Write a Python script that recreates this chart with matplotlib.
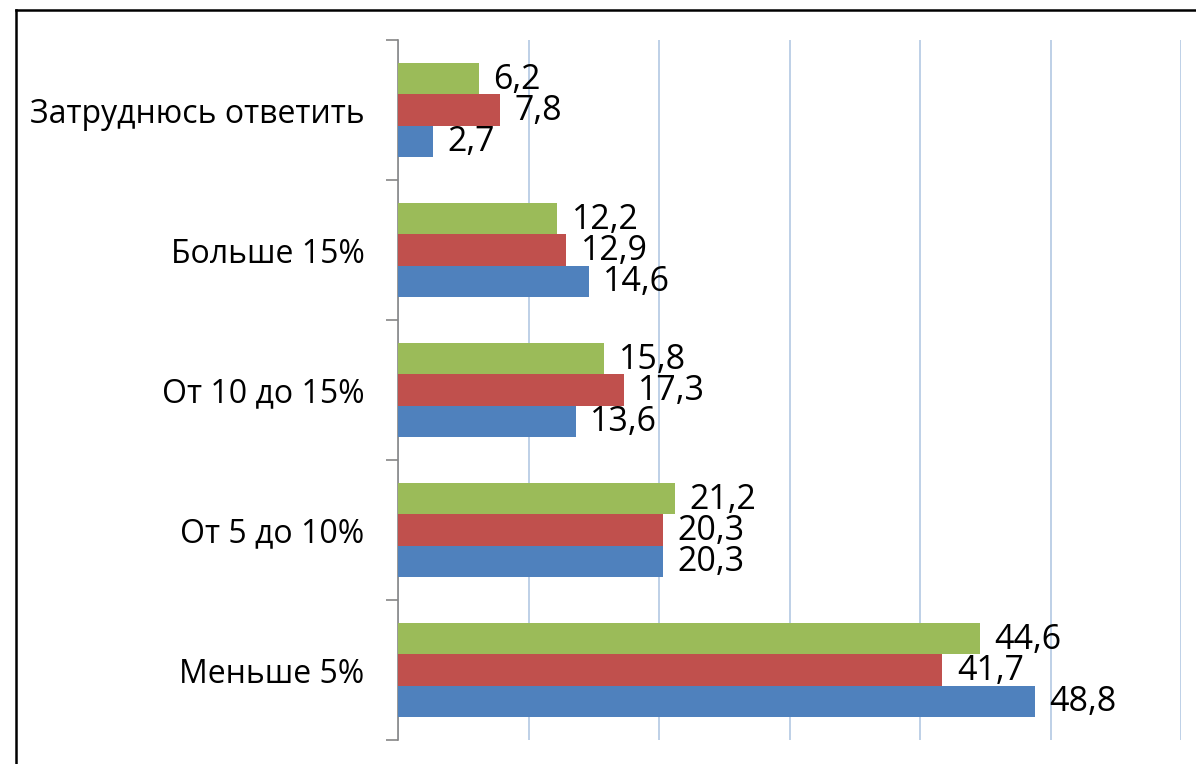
import numpy as np
import matplotlib
matplotlib.use("Agg")
import matplotlib.pyplot as plt
from matplotlib.lines import Line2D

plt.rcParams["font.family"] = ["Open Sans", "DejaVu Sans"]

categories = ["Меньше 5%", "От 5 до 10%", "От 10 до 15%", "Больше 15%", "Затруднюсь ответить"]
blue_vals = [48.8, 20.3, 13.6, 14.6, 2.7]
red_vals = [41.7, 20.3, 17.3, 12.9, 7.8]
green_vals = [44.6, 21.2, 15.8, 12.2, 6.2]

COLORS = ["#4F81BD", "#C0504D", "#9BBB59"]
H = 0.222
FS_CAT = 23
FS_LBL = 24.5

fig = plt.figure(figsize=(11.96, 7.64), dpi=100)
ax = fig.add_axes([0.3328, 0.0314, 0.9875 - 0.3328, 0.9476 - 0.0314])

y = np.arange(len(categories))
for k, (vals, c) in enumerate(zip([blue_vals, red_vals, green_vals], COLORS)):
    pos = y + (k - 1) * H
    ax.barh(pos, vals, height=H, color=c, edgecolor="none", zorder=3)
    for p, v in zip(pos, vals):
        ax.annotate(f"{v:.1f}".replace(".", ","), (v, p), xytext=(10.5, -1),
                    textcoords="offset points", va="center", ha="left",
                    fontsize=FS_LBL, color="black", zorder=4)

ax.set_xlim(0, 60)
ax.set_ylim(-0.5, len(categories) - 0.5)
ax.set_xticks(np.arange(0, 61, 10))
ax.tick_params(axis="x", length=0, labelbottom=False)
ax.grid(axis="x", color="#B9CDE5", lw=1.3, zorder=0)

ax.set_yticks(y)
ax.set_yticklabels(categories, fontsize=FS_CAT)
ax.set_yticks(np.arange(-0.5, len(categories), 1.0), minor=True)
ax.tick_params(axis="y", which="major", length=0, pad=24)
ax.tick_params(axis="y", which="minor", length=9, width=1.2, color="#868686", direction="out")

for s in ["top", "right", "bottom"]:
    ax.spines[s].set_visible(False)
ax.spines["left"].set_color("#868686")
ax.spines["left"].set_linewidth(1.2)

# outer frame (only top and left edges are inside the picture)
fig.add_artist(Line2D([16 / 1196, 16 / 1196], [0, 1 - 10 / 764], color="black", lw=1.8))
fig.add_artist(Line2D([16 / 1196, 1], [1 - 10 / 764, 1 - 10 / 764], color="black", lw=1.8))

fig.savefig("out.png", dpi=100)
